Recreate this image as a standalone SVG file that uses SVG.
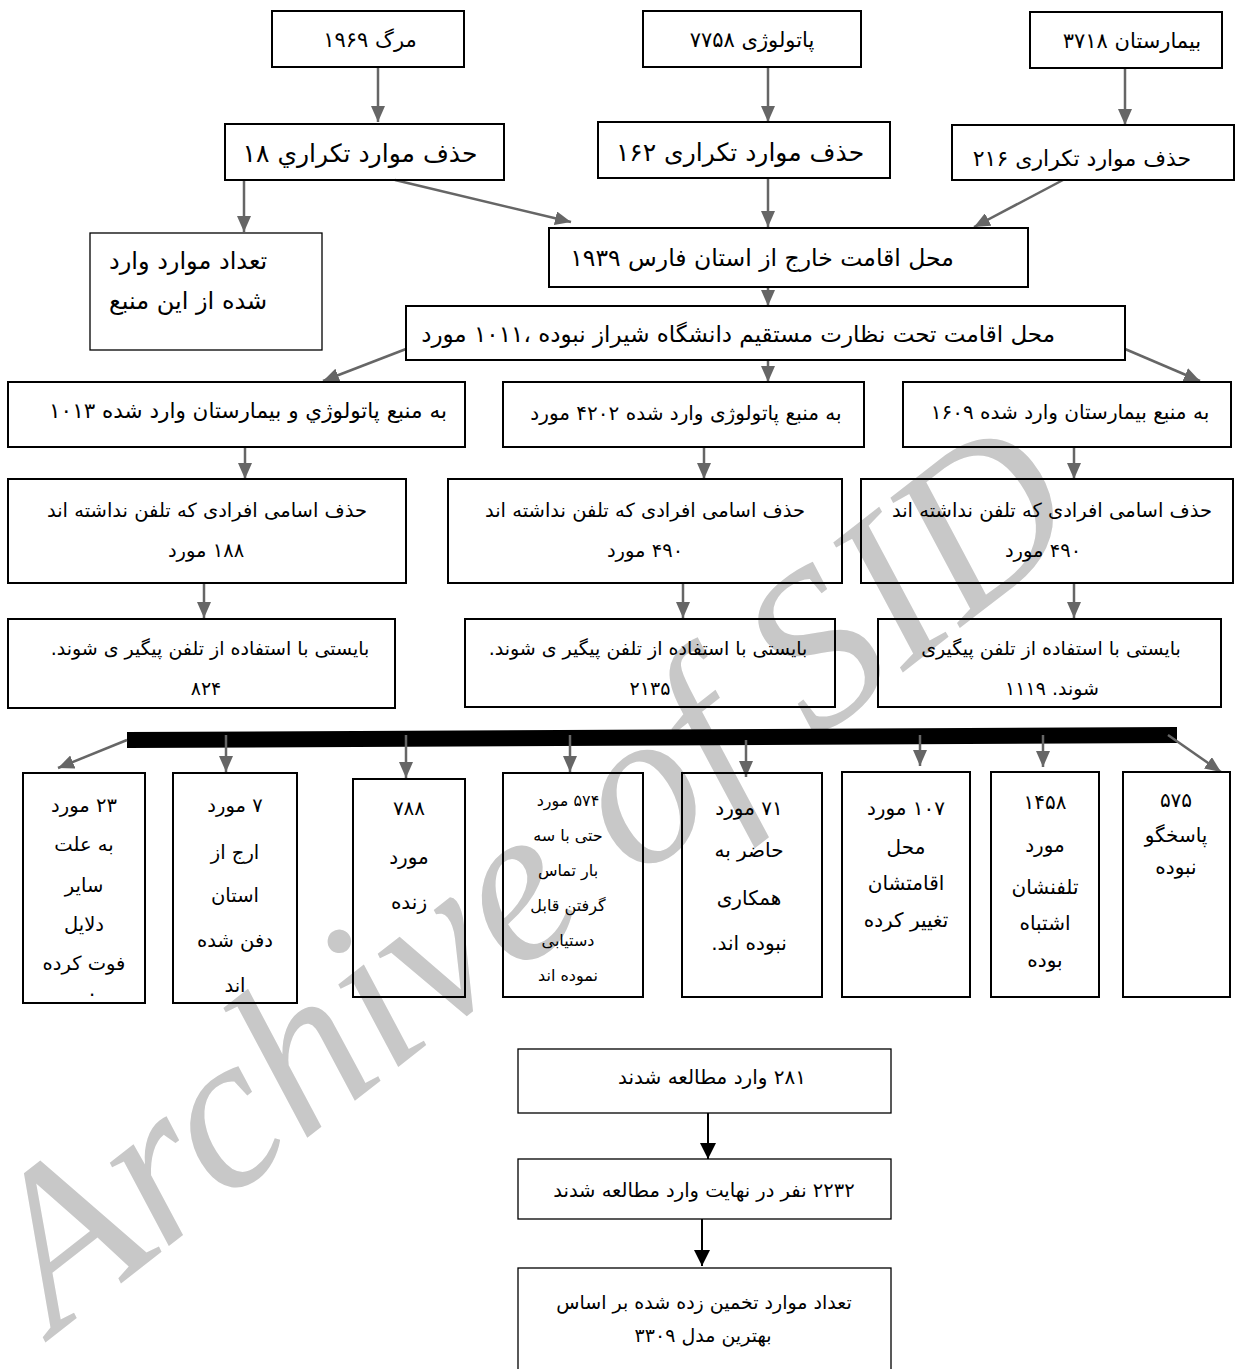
<svg xmlns="http://www.w3.org/2000/svg" width="1237" height="1369" viewBox="0 0 1237 1369">
<style>
.bx{fill:none;stroke:#000;stroke-width:2}
.bt{fill:none;stroke:#000;stroke-width:1.3}
text{font-family:"DejaVu Sans","Noto Sans",sans-serif;fill:#000;direction:rtl;unicode-bidi:embed}
.c{text-anchor:middle}
.s16{font-size:16px}
.s19{font-size:19px}
.s195{font-size:19.5px}
.s20{font-size:20px}
.s21{font-size:21px}
.s215{font-size:21.5px}
.s22{font-size:22px}
.s23{font-size:23px}
.s235{font-size:23.5px}
.s24{font-size:24px}
.s25{font-size:25px}
.ga{stroke:#666;stroke-width:2.5;fill:none}
.ka{stroke:#000;stroke-width:2;fill:none}
.wm{font-family:"Liberation Serif",serif;font-style:italic;font-size:222px;fill:#c8c8c8;direction:ltr}
</style>
<defs>
<marker id="gh" markerUnits="userSpaceOnUse" markerWidth="17" markerHeight="14" refX="16" refY="7" orient="auto"><path d="M0,0 L16,7 L0,14 z" fill="#666"/></marker>
<marker id="kh" markerUnits="userSpaceOnUse" markerWidth="17" markerHeight="16" refX="16" refY="8" orient="auto"><path d="M0,0 L16,8 L0,16 z" fill="#000"/></marker>
</defs>
<rect width="1237" height="1369" fill="#fff"/>
<g id="watermark"><text class="wm" transform="translate(55,1335) rotate(-38)">Archive of SID</text></g>

<g id="connectors">
<line class="ga" x1="378" y1="67" x2="378" y2="122" marker-end="url(#gh)"/>
<line class="ga" x1="768" y1="67" x2="768" y2="122" marker-end="url(#gh)"/>
<line class="ga" x1="1125" y1="69" x2="1125" y2="125" marker-end="url(#gh)"/>
<line class="ga" x1="244" y1="180" x2="244" y2="232" marker-end="url(#gh)"/>
<line class="ga" x1="395" y1="180" x2="571" y2="222" marker-end="url(#gh)"/>
<line class="ga" x1="768" y1="178" x2="768" y2="227" marker-end="url(#gh)"/>
<line class="ga" x1="1063" y1="180" x2="974" y2="227" marker-end="url(#gh)"/>
<line class="ga" x1="768" y1="287" x2="768" y2="306" marker-end="url(#gh)"/>
<line class="ga" x1="406" y1="349" x2="323" y2="381" marker-end="url(#gh)"/>
<line class="ga" x1="768" y1="360" x2="768" y2="382" marker-end="url(#gh)"/>
<line class="ga" x1="1125" y1="349" x2="1200" y2="381" marker-end="url(#gh)"/>
<line class="ga" x1="245" y1="447" x2="245" y2="479" marker-end="url(#gh)"/>
<line class="ga" x1="704" y1="447" x2="704" y2="479" marker-end="url(#gh)"/>
<line class="ga" x1="1074" y1="447" x2="1074" y2="479" marker-end="url(#gh)"/>
<line class="ga" x1="204" y1="583" x2="204" y2="618" marker-end="url(#gh)"/>
<line class="ga" x1="683" y1="583" x2="683" y2="618" marker-end="url(#gh)"/>
<line class="ga" x1="1074" y1="583" x2="1074" y2="618" marker-end="url(#gh)"/>
<polygon points="127,732 1177,727 1177,743 127,748" fill="#000"/>
<line class="ga" x1="127" y1="740" x2="58" y2="768" marker-end="url(#gh)"/>
<line class="ga" x1="226" y1="735" x2="226" y2="772" marker-end="url(#gh)"/>
<line class="ga" x1="406" y1="735" x2="406" y2="778" marker-end="url(#gh)"/>
<line class="ga" x1="570" y1="735" x2="570" y2="772" marker-end="url(#gh)"/>
<line class="ga" x1="746" y1="740" x2="746" y2="777" marker-end="url(#gh)"/>
<line class="ga" x1="920" y1="735" x2="920" y2="766" marker-end="url(#gh)"/>
<line class="ga" x1="1043" y1="735" x2="1043" y2="767" marker-end="url(#gh)"/>
<line class="ga" x1="1168" y1="735" x2="1221" y2="772" marker-end="url(#gh)"/>
<line class="ka" x1="708" y1="1113" x2="708" y2="1159" marker-end="url(#kh)"/>
<line class="ka" x1="702" y1="1219" x2="702" y2="1266" marker-end="url(#kh)"/>
</g>

<g id="n-death"><rect class="bx" x="272" y="11" width="192" height="56"/><text class="s21 c" x="370" y="47">مرگ ۱۹۶۹</text></g>
<g id="n-path"><rect class="bx" x="643" y="11" width="218" height="56"/><text class="s21 c" x="752" y="47">پاتولوژی ۷۷۵۸</text></g>
<g id="n-hosp"><rect class="bx" x="1030" y="12" width="192" height="56"/><text class="s21 c" x="1132" y="48">بیمارستان ۳۷۱۸</text></g>

<g id="n-dup18"><rect class="bx" x="225" y="124" width="279" height="56"/><text class="s25 c" x="360" y="162">حذف موارد تکراري ۱۸</text></g>
<g id="n-dup162"><rect class="bx" x="598" y="122" width="292" height="56"/><text class="s25 c" x="740" y="161">حذف موارد تکراری ۱۶۲</text></g>
<g id="n-dup216"><rect class="bx" x="952" y="125" width="282" height="55"/><text class="s22 c" x="1082" y="166">حذف موارد تکراری ۲۱۶</text></g>

<g id="n-count"><rect class="bt" x="90" y="233" width="232" height="117"/><text class="s24" x="109" y="269" text-anchor="end">تعداد موارد وارد</text><text class="s24" x="109" y="309" text-anchor="end">شده از این منبع</text></g>
<g id="n-outside"><rect class="bx" x="549" y="228" width="479" height="59"/><text class="s235 c" x="762" y="266">محل اقامت خارج از استان فارس ۱۹۳۹</text></g>
<g id="n-super"><rect class="bx" x="406" y="306" width="719" height="54"/><text class="s23" x="1055" y="342">محل اقامت تحت نظارت مستقیم دانشگاه شیراز نبوده ،۱۰۱۱ مورد</text></g>

<g id="n-both"><rect class="bx" x="8" y="382" width="457" height="65"/><text class="s215 c" x="248" y="418">به منبع پاتولوژي و بیمارستان وارد شده ۱۰۱۳</text></g>
<g id="n-pathonly"><rect class="bx" x="503" y="382" width="361" height="65"/><text class="s20 c" x="686" y="420">به منبع پاتولوژی وارد شده ۴۲۰۲ مورد</text></g>
<g id="n-hosponly"><rect class="bx" x="903" y="382" width="328" height="65"/><text class="s20 c" x="1070" y="419">به منبع بیمارستان وارد شده ۱۶۰۹</text></g>

<g id="n-nophone1"><rect class="bx" x="8" y="479" width="398" height="104"/><text class="s195 c" x="207" y="517">حذف اسامی افرادی که تلفن نداشته اند</text><text class="s195 c" x="206" y="557">۱۸۸ مورد</text></g>
<g id="n-nophone2"><rect class="bx" x="448" y="479" width="394" height="104"/><text class="s195 c" x="645" y="517">حذف اسامی افرادی که تلفن نداشته اند</text><text class="s195 c" x="645" y="557">۴۹۰ مورد</text></g>
<g id="n-nophone3"><rect class="bx" x="861" y="479" width="372" height="104"/><text class="s195 c" x="1052" y="517">حذف اسامی افرادی که تلفن نداشته اند</text><text class="s195 c" x="1043" y="557">۴۹۰ مورد</text></g>

<g id="n-follow1"><rect class="bx" x="8" y="619" width="387" height="89"/><text class="s19 c" x="210" y="655">بایستی با استفاده از تلفن پیگیر ی شوند.</text><text class="s19 c" x="206" y="695">۸۲۴</text></g>
<g id="n-follow2"><rect class="bx" x="465" y="619" width="370" height="88"/><text class="s19 c" x="648" y="655">بایستی با استفاده از تلفن پیگیر ی شوند.</text><text class="s19 c" x="650" y="695">۲۱۳۵</text></g>
<g id="n-follow3"><rect class="bx" x="878" y="619" width="343" height="88"/><text class="s19 c" x="1051" y="655">بایستی با استفاده از تلفن پیگیری</text><text class="s19 c" x="1052" y="695">شوند. ۱۱۱۹</text></g>

<g id="n-other"><rect class="bx" x="23" y="773" width="122" height="230"/>
<text class="s195 c" x="84" y="812">۲۳ مورد</text><text class="s195 c" x="84" y="851">به علت</text><text class="s195 c" x="84" y="892">سایر</text><text class="s195 c" x="84" y="931">دلایل</text><text class="s195 c" x="84" y="970">فوت کرده</text><text class="s195 c" x="92" y="996">.</text></g>
<g id="n-buried"><rect class="bx" x="173" y="773" width="124" height="230"/>
<text class="s195 c" x="235" y="812">۷ مورد</text><text class="s195 c" x="235" y="859">ارج از</text><text class="s195 c" x="235" y="902">استان</text><text class="s195 c" x="235" y="947">دفن شده</text><text class="s195 c" x="235" y="992">اند</text></g>
<g id="n-alive"><rect class="bx" x="353" y="779" width="112" height="218"/>
<text class="s20 c" x="409" y="815">۷۸۸</text><text class="s20 c" x="409" y="864">مورد</text><text class="s20 c" x="409" y="909">زنده</text></g>
<g id="n-unreach"><rect class="bx" x="503" y="773" width="140" height="224"/>
<text class="s16 c" x="568" y="806">۵۷۴ مورد</text><text class="s16 c" x="568" y="841">حتی با سه</text><text class="s16 c" x="568" y="876">بار تماس</text><text class="s16 c" x="568" y="911">گرفتن قابل</text><text class="s16 c" x="568" y="946">دستیابی</text><text class="s16 c" x="568" y="981">نموده اند</text></g>
<g id="n-refuse"><rect class="bx" x="682" y="773" width="140" height="224"/>
<text class="s20 c" x="749" y="815">۷۱ مورد</text><text class="s20 c" x="749" y="857">حاضر به</text><text class="s20 c" x="749" y="905">همکاری</text><text class="s20 c" x="749" y="950">نبوده اند.</text></g>
<g id="n-moved"><rect class="bx" x="842" y="772" width="128" height="225"/>
<text class="s20 c" x="906" y="815">۱۰۷ مورد</text><text class="s20 c" x="906" y="854">محل</text><text class="s20 c" x="906" y="890">اقامتشان</text><text class="s20 c" x="906" y="927">تغییر کرده</text></g>
<g id="n-wrong"><rect class="bx" x="991" y="772" width="108" height="225"/>
<text class="s20 c" x="1045" y="809">۱۴۵۸</text><text class="s20 c" x="1045" y="852">مورد</text><text class="s20 c" x="1045" y="894">تلفنشان</text><text class="s20 c" x="1045" y="930">اشتباه</text><text class="s20 c" x="1045" y="967">بوده</text></g>
<g id="n-noanswer"><rect class="bx" x="1123" y="772" width="107" height="225"/>
<text class="s20 c" x="1176" y="807">۵۷۵</text><text class="s20 c" x="1176" y="842">پاسخگو</text><text class="s20 c" x="1176" y="874">نبوده</text></g>

<g id="n-281"><rect class="bt" x="518" y="1049" width="373" height="64"/><text class="s20 c" x="712" y="1084">۲۸۱ وارد مطالعه شدند</text></g>
<g id="n-2232"><rect class="bt" x="518" y="1159" width="373" height="60"/><text class="s195 c" x="704" y="1197">۲۲۳۲ نفر در نهایت وارد مطالعه شدند</text></g>
<g id="n-est"><rect class="bt" x="518" y="1268" width="373" height="110"/><text class="s19 c" x="704" y="1309">تعداد موارد تخمین زده شده بر اساس</text><text class="s19 c" x="703" y="1342">بهترین مدل ۳۳۰۹</text></g>
</svg>
